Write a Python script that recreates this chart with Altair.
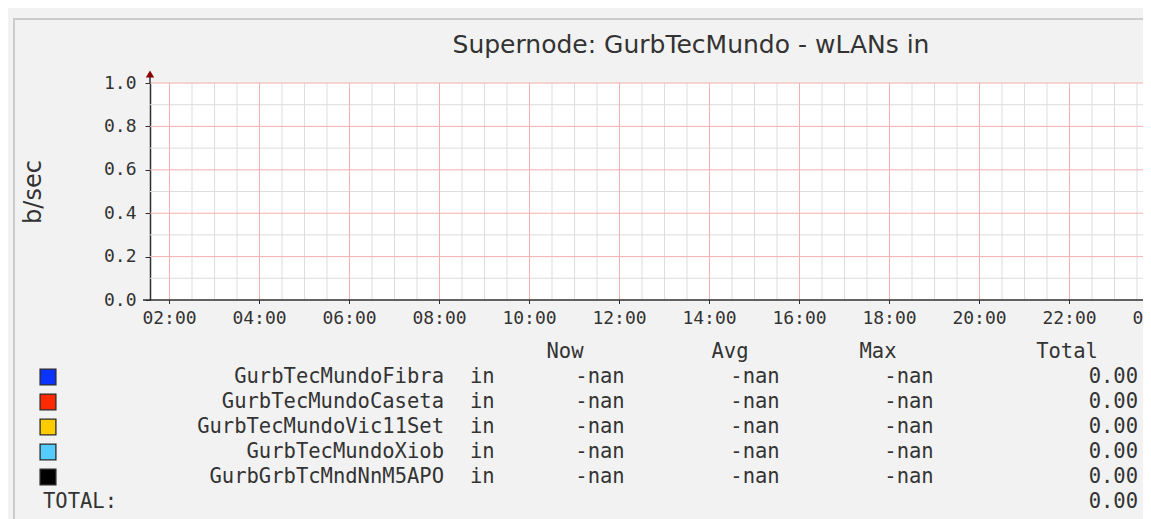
import altair as alt
import pandas as pd

# ---------------- data ----------------
title_text = "Supernode: GurbTecMundo - wLANs in"
y_unit = "b/sec"
x_start = "2024-01-01T01:34:00"
x_end = "2024-01-01T23:38:00"
day = "2024-01-01"
x_label_times = [
    "2024-01-01T02:00:00", "2024-01-01T04:00:00", "2024-01-01T06:00:00",
    "2024-01-01T08:00:00", "2024-01-01T10:00:00", "2024-01-01T12:00:00",
    "2024-01-01T14:00:00", "2024-01-01T16:00:00", "2024-01-01T18:00:00",
    "2024-01-01T20:00:00", "2024-01-01T22:00:00", "2024-01-02T00:00:00",
]
y_domain = [0.0, 1.0]
y_label_ticks = [0.0, 0.2, 0.4, 0.6, 0.8, 1.0]
y_minor_ticks = [0.1, 0.3, 0.5, 0.7, 0.9]

series_names = [
    "GurbTecMundoFibra",
    "GurbTecMundoCaseta",
    "GurbTecMundoVic11Set",
    "GurbTecMundoXiob",
    "GurbGrbTcMndNnM5APO",
]
series_colors = ["#0a33ff", "#ff2a00", "#ffcc00", "#55ccff", "#000000"]
series_direction = ["in", "in", "in", "in", "in"]
now_values = ["-nan", "-nan", "-nan", "-nan", "-nan"]
avg_values = ["-nan", "-nan", "-nan", "-nan", "-nan"]
max_values = ["-nan", "-nan", "-nan", "-nan", "-nan"]
total_values = [0.00, 0.00, 0.00, 0.00, 0.00]
grand_total = 0.00
column_headers = ["Now", "Avg", "Max", "Total"]
total_label = "TOTAL:"

# sampled values: every sample is NaN (nothing is drawn, like the original)
sample_times = [x_start, x_end]
fibra_values = [None, None]
caseta_values = [None, None]
vic_values = [None, None]
xiob_values = [None, None]
m5apo_values = [None, None]

# ---------------- tables ----------------
all_values = [fibra_values, caseta_values, vic_values, xiob_values, m5apo_values]
series_df = pd.DataFrame(
    [
        {"time": t, "value": v, "series": n}
        for n, vals in zip(series_names, all_values)
        for t, v in zip(sample_times, vals)
    ]
)

minor_x_times = [
    f"{day}T{h:02d}:{m:02d}:00"
    for h in range(2, 24)
    for m in (0, 30)
    if f"{day}T{h:02d}:{m:02d}:00" not in x_label_times
]
label_x_df = pd.DataFrame({"t": x_label_times})
minor_x_df = pd.DataFrame({"t": minor_x_times})
major_y_df = pd.DataFrame({"v": y_label_ticks[1:]})
minor_y_df = pd.DataFrame({"v": y_minor_ticks})

HEADER_KEY = "__header__"
TOTAL_KEY = "__total__"
row_keys = [HEADER_KEY] + series_names + [TOTAL_KEY]

legend_df = pd.DataFrame(
    {
        "key": series_names,
        "name": series_names,
        "dir": series_direction,
        "now": now_values,
        "avg": avg_values,
        "max": max_values,
        "total": total_values,
        "color": series_colors,
    }
)
header_df = pd.DataFrame({"key": [HEADER_KEY] * len(column_headers), "label": column_headers})
total_df = pd.DataFrame({"key": [TOTAL_KEY], "label": [total_label], "total": [grand_total]})
title_df = pd.DataFrame({"t": [title_text]})
one = pd.DataFrame({"a": [0]})

# ---------------- style ----------------
MONO = "DejaVu Sans Mono"
SANS = "DejaVu Sans"
TXT = "#333333"
MAJOR = "#f2b0b0"
MINOR = "#dddddd"
AXIS = "#2e2e2e"
LEG_SIZE = 20.5
PLOT_H = 217


def x_scale():
    return alt.Scale(domain=[x_start, x_end])


def y_scale():
    return alt.Scale(domain=y_domain, nice=False, zero=False)


y_axis = alt.Axis(
    title=y_unit,
    values=y_label_ticks,
    format=".1f",
    grid=False,
    tickColor=AXIS,
    tickSize=5,
    labelFont=MONO,
    labelFontSize=18,
    labelColor=TXT,
    labelPadding=9,
    labelOverlap=False,
    domainColor=AXIS,
    domainWidth=1.5,
    titleFont=SANS,
    titleFontSize=24,
    titleFontWeight="normal",
    titleColor=TXT,
    titlePadding=58,
)

# ---------------- layers ----------------
frame = alt.Chart(one).mark_rect(fillOpacity=0, stroke="#cccccc", strokeWidth=2).encode(
    x=alt.value(-136), x2=alt.value(1300), y=alt.value(-64), y2=alt.value(700)
)

grid_minor_x = alt.Chart(minor_x_df).mark_rule(color=MINOR, strokeWidth=1).encode(
    x=alt.X("t:T", scale=x_scale(), axis=None)
)
grid_minor_y = alt.Chart(minor_y_df).mark_rule(color=MINOR, strokeWidth=1).encode(
    y=alt.Y("v:Q", scale=y_scale(), axis=None)
)
grid_major_x = alt.Chart(label_x_df).mark_rule(color=MAJOR, strokeWidth=1).encode(
    x=alt.X("t:T", scale=x_scale(), axis=None)
)
grid_major_y = alt.Chart(major_y_df).mark_rule(color=MAJOR, strokeWidth=1).encode(
    y=alt.Y("v:Q", scale=y_scale(), axis=None)
)

lines = alt.Chart(series_df).mark_line(strokeWidth=1.5).encode(
    x=alt.X("time:T", scale=x_scale(), axis=None),
    y=alt.Y("value:Q", scale=y_scale(), axis=y_axis),
    color=alt.Color("series:N", scale=alt.Scale(domain=series_names, range=series_colors), legend=None),
)

# x axis drawn from the tick list: axis line, ticks and labels
x_axis_line = alt.Chart(one).mark_rule(color=AXIS, strokeWidth=1.5).encode(
    x=alt.value(-7), x2=alt.value(1100), y=alt.value(PLOT_H)
)
x_ticks = alt.Chart(label_x_df).mark_rule(color=AXIS, strokeWidth=1).encode(
    x=alt.X("t:T", scale=x_scale(), axis=None), y=alt.value(PLOT_H), y2=alt.value(PLOT_H + 4)
)
x_labels = alt.Chart(label_x_df).mark_text(
    font=MONO, fontSize=18, align="center", baseline="top", color=TXT
).encode(
    x=alt.X("t:T", scale=x_scale(), axis=None),
    y=alt.value(PLOT_H + 10),
    text=alt.Text("t:T", format="%H:%M"),
)

axis_ext = alt.Chart(one).mark_rule(color=AXIS, strokeWidth=1.5).encode(
    x=alt.value(0), y=alt.value(-8), y2=alt.value(0)
)
arrow = alt.Chart(one).mark_point(
    shape="triangle-up", filled=True, size=70, color="#8b0000", opacity=1
).encode(x=alt.value(0), y=alt.value(-9))

title = alt.Chart(title_df).mark_text(
    font=SANS, fontSize=25, align="center", baseline="alphabetic", color=TXT
).encode(x=alt.value(541), y=alt.value(-30), text="t:N")


def ROW():
    return alt.Y(
        "key:O",
        scale=alt.Scale(type="point", domain=row_keys, range=[269, 419], padding=0),
        axis=None,
    )


def col_text(df, field, xpos, align):
    return alt.Chart(df).mark_text(
        font=MONO, fontSize=LEG_SIZE, align=align, baseline="middle", color=TXT
    ).encode(x=alt.value(xpos), y=ROW(), text=field)


swatches = alt.Chart(legend_df).mark_point(
    shape="square", filled=True, size=250, stroke="#2a2a2a", strokeWidth=1.3, opacity=1
).encode(
    x=alt.value(-102),
    y=ROW(),
    fill=alt.Fill("color:N", scale=None),
)

header_x = {"Now": 415, "Avg": 580, "Max": 728, "Total": 917}
header_layers = [
    alt.Chart(header_df)
    .transform_filter(alt.datum.label == h)
    .mark_text(font=MONO, fontSize=LEG_SIZE, align="center", baseline="middle", color=TXT)
    .encode(x=alt.value(header_x[h]), y=ROW(), text="label:N")
    for h in column_headers
]

legend_layers = [
    swatches,
    col_text(legend_df, "name:N", 294, "right"),
    col_text(legend_df, "dir:N", 320, "left"),
    col_text(legend_df, "now:N", 450, "center"),
    col_text(legend_df, "avg:N", 605, "center"),
    col_text(legend_df, "max:N", 759, "center"),
    col_text(legend_df, alt.Text("total:Q", format=".2f"), 988, "right"),
    col_text(total_df, "label:N", -107, "left"),
    col_text(total_df, alt.Text("total:Q", format=".2f"), 988, "right"),
] + header_layers

chart = (
    alt.layer(
        frame,
        grid_minor_x,
        grid_minor_y,
        grid_major_x,
        grid_major_y,
        lines,
        x_axis_line,
        x_ticks,
        x_labels,
        axis_ext,
        arrow,
        title,
        *legend_layers,
    )
    .resolve_scale(y="independent")
    .properties(
        width=993,
        height=PLOT_H,
        autosize=alt.AutoSizeParams(type="none"),
        padding={"left": 142, "top": 75, "right": 0, "bottom": 219},
        background="#f2f2f2",
    )
    .configure_view(fill="white", stroke="transparent")
)

chart.save("out.html", embed_options={"renderer": "svg", "actions": False})
